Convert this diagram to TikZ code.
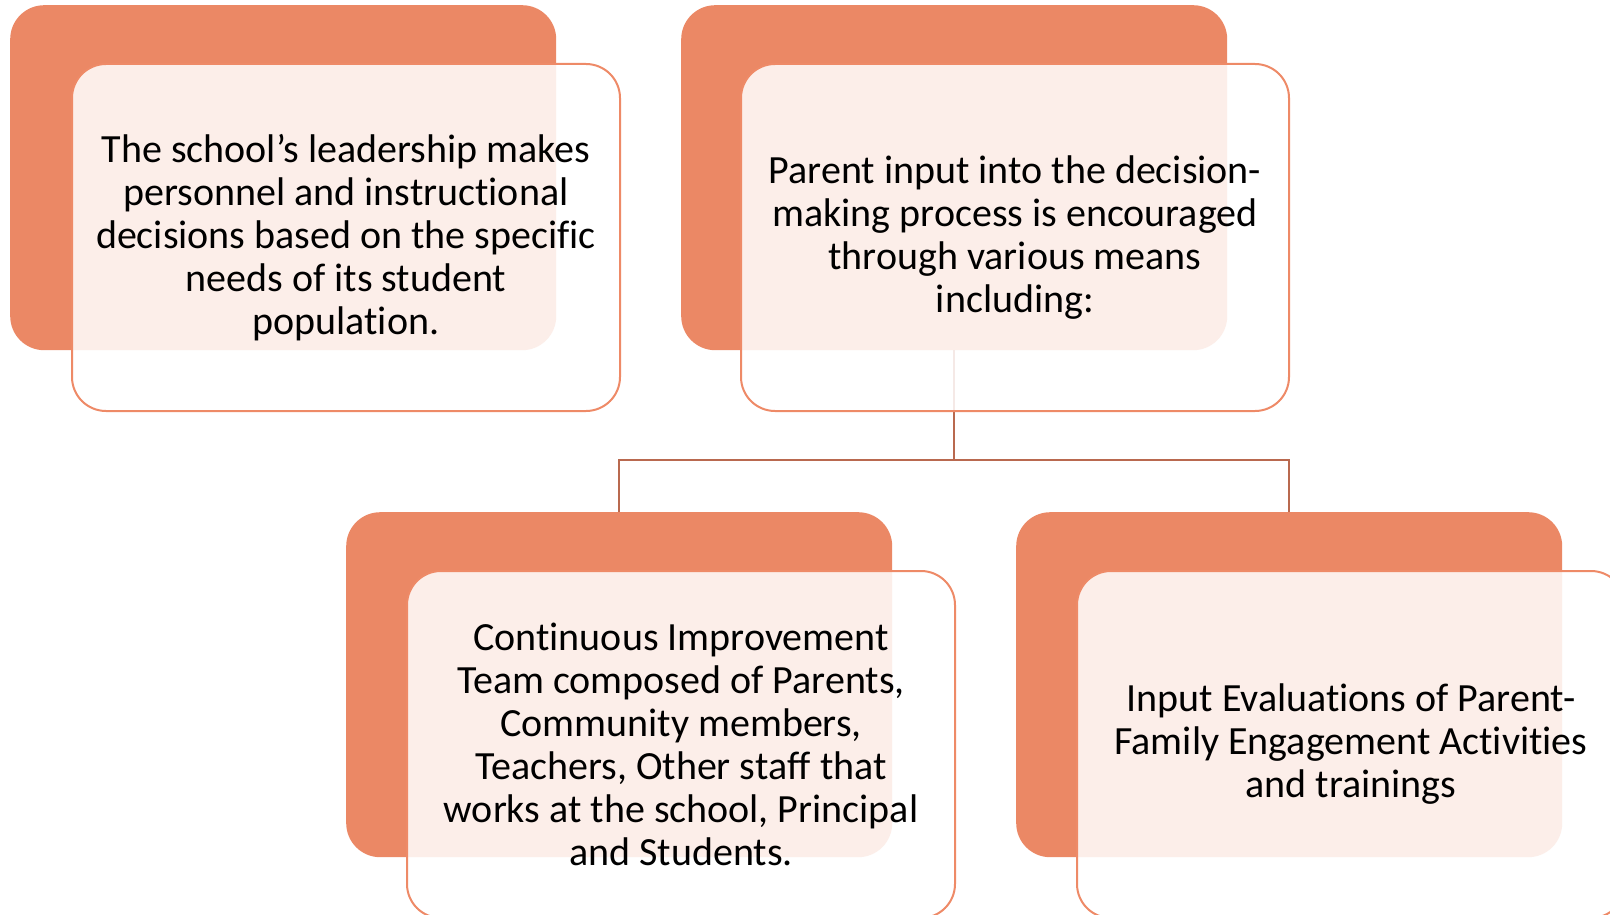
\documentclass[tikz,border=0pt]{standalone}
\usepackage{fontspec}
\setmainfont{Carlito}[RawFeature={-liga}]
\definecolor{backc}{HTML}{EB8865}
\definecolor{edgec}{HTML}{EE8A67}
\definecolor{linec}{HTML}{B9694F}
\tikzset{
 backbox/.style={draw=none, fill=backc, rounded corners=34pt, minimum width=546pt, minimum height=345pt, anchor=north west, inner sep=0pt},
 frontbox/.style={draw=edgec, line width=2pt, fill=white, fill opacity=0.86, text opacity=1, rounded corners=34pt, minimum width=548pt, minimum height=347pt, anchor=north west, align=center, font=\fontsize{40}{43}\selectfont, inner sep=0pt},
 conn/.style={draw=linec, line width=2.5pt}
}
\begin{document}
\begin{tikzpicture}[x=1pt,y=-1pt]
\useasboundingbox (0,0) rectangle (1610,915);
\clip (0,0) rectangle (1610,915);
\node[backbox] (b1) at (10,5) {};
\node[backbox] (b2) at (681,5) {};
\node[backbox] (b3) at (346,512) {};
\node[backbox] (b4) at (1016,512) {};
\coordinate (mid) at (0,460);
\draw[conn] (b2.south) -- (b2.south |- mid) -| (b3.north);
\draw[conn] (b2.south |- mid) -| (b4.north);
\node[frontbox] (f1) at (71,63) {The school’s leadership makes\\personnel and instructional\\decisions based on the specific\\needs of its student\\population.};
\node[frontbox] (f2) at (740,63) {Parent input into the decision-\\making process is encouraged\\through various means\\including:};
\node[frontbox] (f3) at (406,570) {Continuous Improvement\\Team composed of Parents,\\Community members,\\Teachers, Other staff that\\works at the school, Principal\\and Students.};
\node[frontbox] (f4) at (1076,570) {Input Evaluations of Parent-\\Family Engagement Activities\\and trainings};
\end{tikzpicture}
\end{document}
